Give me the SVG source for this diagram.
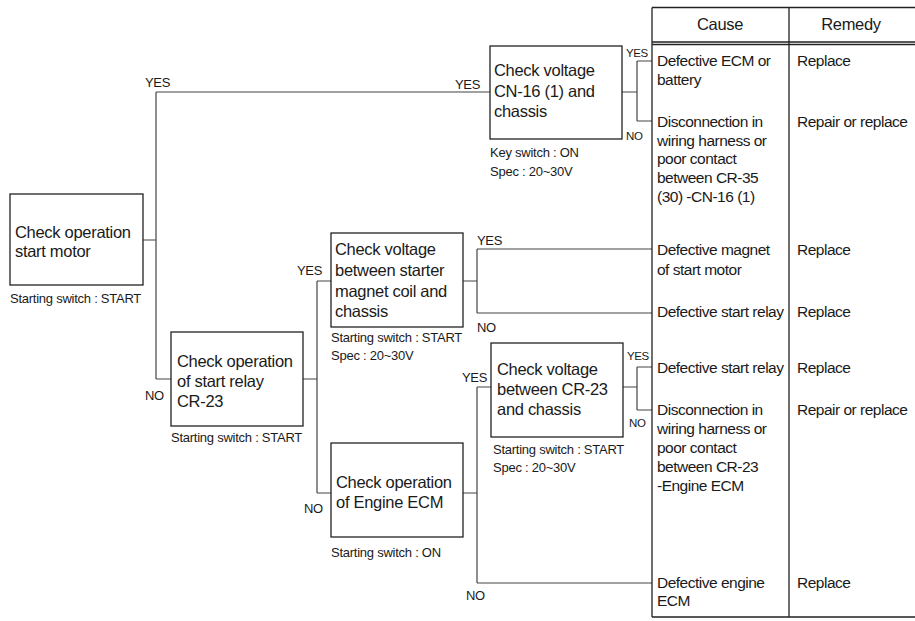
<svg xmlns="http://www.w3.org/2000/svg" width="915" height="621" viewBox="0 0 915 621">
<style>
text{font-family:"Liberation Sans",Arial,Helvetica,sans-serif;fill:#1a1a1a}
.bx{fill:#fff;stroke:#222;stroke-width:1.3}
.t{font-size:16.5px;letter-spacing:-0.3px}
.tc{font-size:15.5px;letter-spacing:-0.5px}
.s{font-size:13px;letter-spacing:-0.25px}
.yn{font-size:13px;letter-spacing:-0.3px}
.ys{font-size:11.5px;letter-spacing:-0.4px}
.c{fill:none;stroke:#444;stroke-width:1.2}
.tb{fill:none;stroke:#222;stroke-width:1.3}
</style>
<rect width="915" height="621" fill="#fff"/>
<g id="connectors">
<path class="c" d="M143 240H156M156 92V379M156 92H490M156 379H171"/>
<path class="c" d="M622 92H637M637 61V121M637 61H652M637 121H652"/>
<path class="c" d="M303 379H317M317 281V493M317 281H331M317 493H331"/>
<path class="c" d="M463 281H477M477 249V313M477 249H652M477 313H652"/>
<path class="c" d="M463 493H477M477 387V583M477 387H491M477 583H652"/>
<path class="c" d="M623 387H637M637 367V410M637 367H652M637 410H652"/>
<text class="yn" x="145" y="87">YES</text>
<text class="yn" x="145" y="400">NO</text>
<text class="yn" x="455" y="89">YES</text>
<text class="ys" x="626" y="57">YES</text>
<text class="ys" x="626" y="140">NO</text>
<text class="yn" x="297" y="275">YES</text>
<text class="yn" x="477" y="245">YES</text>
<text class="yn" x="477" y="332">NO</text>
<text class="yn" x="304" y="513">NO</text>
<text class="yn" x="462" y="382">YES</text>
<text class="yn" x="466" y="600">NO</text>
<text class="ys" x="627" y="360">YES</text>
<text class="ys" x="629" y="427">NO</text>
</g>
<g id="n-start-motor">
<rect class="bx" x="10" y="194" width="133" height="91"/>
<text class="t" x="15" y="238">Check operation</text>
<text class="t" x="15" y="257">start motor</text>
<text class="s" x="10" y="303">Starting switch : START</text>
</g>
<g id="n-cn16">
<rect class="bx" x="490" y="46" width="132" height="93"/>
<text class="t" x="494" y="76">Check voltage</text>
<text class="t" x="494" y="97">CN-16 (1) and</text>
<text class="t" x="494" y="117">chassis</text>
<text class="s" x="490" y="157">Key switch : ON</text>
<text class="s" x="490" y="176">Spec : 20~30V</text>
</g>
<g id="n-start-relay">
<rect class="bx" x="171" y="332" width="132" height="94"/>
<text class="t" x="177" y="367">Check operation</text>
<text class="t" x="177" y="387">of start relay</text>
<text class="t" x="177" y="407">CR-23</text>
<text class="s" x="171" y="442">Starting switch : START</text>
</g>
<g id="n-starter-magnet">
<rect class="bx" x="331" y="233" width="132" height="94"/>
<text class="t" x="335" y="255">Check voltage</text>
<text class="t" x="335" y="276">between starter</text>
<text class="t" x="335" y="297">magnet coil and</text>
<text class="t" x="335" y="317">chassis</text>
<text class="s" x="331" y="342">Starting switch : START</text>
<text class="s" x="331" y="360">Spec : 20~30V</text>
</g>
<g id="n-engine-ecm">
<rect class="bx" x="331" y="443" width="132" height="94"/>
<text class="t" x="336" y="488">Check operation</text>
<text class="t" x="336" y="508">of Engine ECM</text>
<text class="s" x="331" y="557">Starting switch : ON</text>
</g>
<g id="n-cr23">
<rect class="bx" x="491" y="343" width="132" height="94"/>
<text class="t" x="497" y="375">Check voltage</text>
<text class="t" x="497" y="395">between CR-23</text>
<text class="t" x="497" y="415">and chassis</text>
<text class="s" x="493" y="454">Starting switch : START</text>
<text class="s" x="493" y="472">Spec : 20~30V</text>
</g>
<g id="table">
<path class="tb" d="M652 7.5H915M652 42H915M652 44.5H915M652 617H915M652 7.5V617M789 7.5V617"/>
<text class="t" x="720" y="30" text-anchor="middle">Cause</text>
<text class="t" x="851" y="30" text-anchor="middle">Remedy</text>
<text class="tc" x="657" y="66">Defective ECM or</text>
<text class="tc" x="657" y="85">battery</text>
<text class="tc" x="797" y="66">Replace</text>
<text class="tc" x="657" y="127">Disconnection in</text>
<text class="tc" x="657" y="146">wiring harness or</text>
<text class="tc" x="657" y="164">poor contact</text>
<text class="tc" x="657" y="183">between CR-35</text>
<text class="tc" x="657" y="202">(30) -CN-16 (1)</text>
<text class="tc" x="797" y="127">Repair or replace</text>
<text class="tc" x="657" y="255">Defective magnet</text>
<text class="tc" x="657" y="275">of start motor</text>
<text class="tc" x="797" y="255">Replace</text>
<text class="tc" x="657" y="317">Defective start relay</text>
<text class="tc" x="797" y="317">Replace</text>
<text class="tc" x="657" y="373">Defective start relay</text>
<text class="tc" x="797" y="373">Replace</text>
<text class="tc" x="657" y="415">Disconnection in</text>
<text class="tc" x="657" y="434">wiring harness or</text>
<text class="tc" x="657" y="453">poor contact</text>
<text class="tc" x="657" y="472">between CR-23</text>
<text class="tc" x="657" y="491">-Engine ECM</text>
<text class="tc" x="797" y="415">Repair or replace</text>
<text class="tc" x="657" y="588">Defective engine</text>
<text class="tc" x="657" y="606">ECM</text>
<text class="tc" x="797" y="588">Replace</text>
</g>
</svg>
